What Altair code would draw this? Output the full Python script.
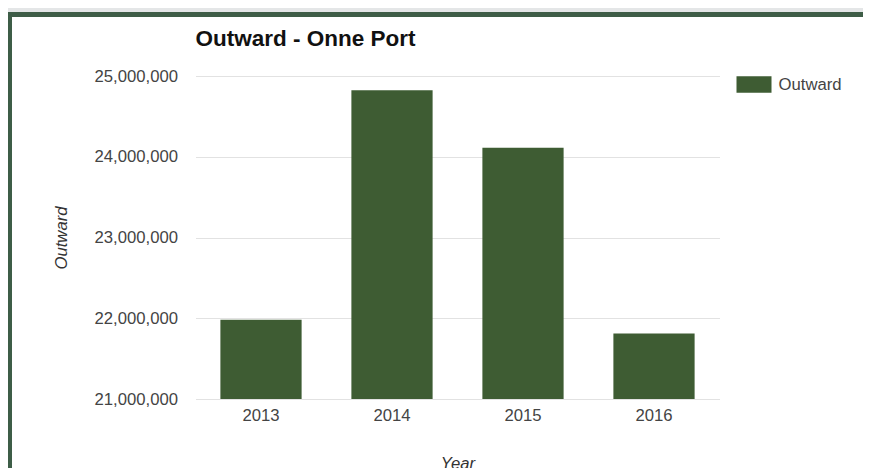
import altair as alt
import pandas as pd

# ---- data ----
years = ["2013", "2014", "2015", "2016"]
outward = [21980000, 24825000, 24110000, 21810000]
series = ["Outward", "Outward", "Outward", "Outward"]
y_ticks = [21000000, 22000000, 23000000, 24000000, 25000000]

df = pd.DataFrame({"Year": years, "Outward": outward, "Series": series})

BAR = "#3e5c33"
FRAME = "#3e5d47"
GRAY = "#e4e6e7"
FONT = "Liberation Sans"
FS = 16.7

one = pd.DataFrame({"k": [0]})

# decorative page frame (not data)
gray_top = alt.Chart(one).mark_rect(color=GRAY).encode(
    x=alt.value(-187.5), x2=alt.value(667.5), y=alt.value(-68), y2=alt.value(-64)
)
green_top = alt.Chart(one).mark_rect(color=FRAME).encode(
    x=alt.value(-187.5), x2=alt.value(667.5), y=alt.value(-64), y2=alt.value(-59)
)
green_left = alt.Chart(one).mark_rect(color=FRAME).encode(
    x=alt.value(-187.5), x2=alt.value(-183.5), y=alt.value(-64), y2=alt.value(400)
)

bars = alt.Chart(df).mark_bar().encode(
    x=alt.X(
        "Year:N",
        sort=years,
        scale=alt.Scale(paddingInner=0.38, paddingOuter=0.19),
        axis=alt.Axis(
            title="Year",
            labelAngle=0,
            labelFontSize=FS,
            labelColor="#444444",
            labelFont=FONT,
            labelPadding=8,
            ticks=False,
            domain=False,
            grid=False,
            titleFont=FONT,
            titleFontSize=FS,
            titleFontStyle="italic",
            titleFontWeight="normal",
            titleColor="#333333",
            titleX=262,
            titleY=56,
            titleAlign="center",
            titleBaseline="top",
        ),
    ),
    y=alt.Y(
        "Outward:Q",
        scale=alt.Scale(domain=[21000000, 25000000], nice=False, zero=False),
        axis=alt.Axis(
            title="Outward",
            values=y_ticks,
            format=",.0f",
            labelFontSize=FS,
            labelColor="#444444",
            labelFont=FONT,
            labelPadding=18,
            ticks=False,
            domain=False,
            gridColor="#e2e2e2",
            titleFont=FONT,
            titleFontSize=FS,
            titleFontStyle="italic",
            titleFontWeight="normal",
            titleColor="#333333",
            titleAngle=270,
            titleX=-134,
            titleY=161.5,
            titleAlign="center",
            titleBaseline="middle",
        ),
    ),
    y2=alt.datum(21000000),
    color=alt.Color(
        "Series:N",
        scale=alt.Scale(range=[BAR]),
        legend=alt.Legend(
            title=None,
            orient="none",
            legendX=541,
            legendY=-9,
            symbolType="M-1,-0.47L1,-0.47L1,0.47L-1,0.47Z",
            symbolSize=1225,
            symbolStrokeWidth=0,
            symbolOpacity=1,
            labelFont=FONT,
            labelFontSize=FS,
            labelColor="#444444",
            labelOffset=7,
            padding=0,
        ),
    ),
)

chart = (
    alt.layer(gray_top, green_top, green_left, bars)
    .properties(
        width=524,
        height=323,
        padding={"left": 187.5, "top": 68, "right": 143.5, "bottom": 69},
        autosize=alt.AutoSizeParams(type="none"),
        background="white",
        title=alt.TitleParams(
            "Outward - Onne Port",
            anchor="start",
            frame="group",
            font=FONT,
            fontSize=22.5,
            fontWeight="bold",
            color="#111111",
            baseline="alphabetic",
            offset=-60,
        ),
    )
    .configure_view(stroke=None)
)

chart.save("out.html", embed_options={"renderer": "svg", "actions": False})
